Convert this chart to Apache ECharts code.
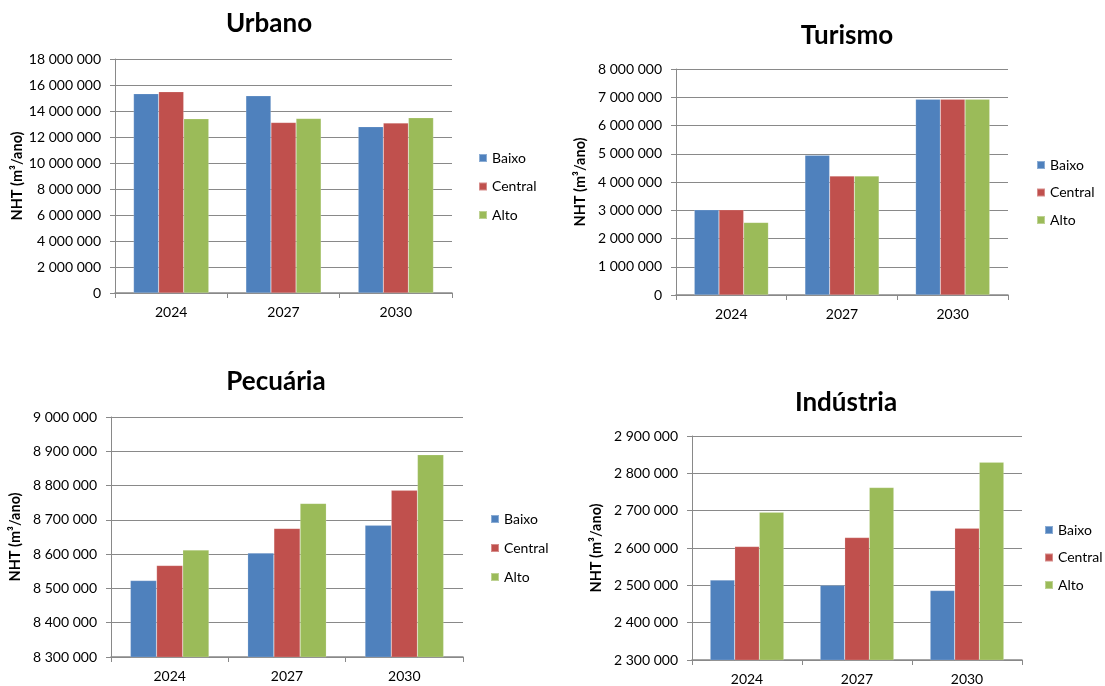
<!DOCTYPE html>
<html>
<head>
<meta charset="utf-8">
<script src="https://cdn.jsdelivr.net/npm/echarts@6/dist/echarts.min.js"></script>
<style>
  html, body { margin: 0; padding: 0; background: #fff; }
  #chart { width: 1105px; height: 686px; }
</style>
</head>
<body>
<div id="chart"></div>
<script>
// Water demand projections (NHT, m³/year) per sector and scenario
const years = ['2024', '2027', '2030'];
const scenarios = ['Baixo', 'Central', 'Alto'];
const yAxisTitle = 'NHT (m³/ano)';

const urbanoBaixo   = [15330000, 15170000, 12790000];
const urbanoCentral = [15480000, 13120000, 13070000];
const urbanoAlto    = [13400000, 13430000, 13480000];

const turismoBaixo   = [3015000, 4950000, 6930000];
const turismoCentral = [3015000, 4210000, 6930000];
const turismoAlto    = [2570000, 4210000, 6930000];

const pecuariaBaixo   = [8523000, 8603000, 8684000];
const pecuariaCentral = [8567000, 8675000, 8786000];
const pecuariaAlto    = [8612000, 8748000, 8890000];

const industriaBaixo   = [2514000, 2500000, 2486000];
const industriaCentral = [2604000, 2628000, 2653000];
const industriaAlto    = [2696000, 2762000, 2830000];

// Axis ranges per panel: [min, max, interval]
const urbanoRange    = [0, 18000000, 2000000];
const turismoRange   = [0, 8000000, 1000000];
const pecuariaRange  = [8300000, 9000000, 100000];
const industriaRange = [2300000, 2900000, 100000];

const colors = ['#4F81BD', '#C0504D', '#9BBB59'];
const FONT = 'Lato, "Open Sans", sans-serif';
const GRAY = '#898989';

function fmt(v) {
  return String(v).replace(/\B(?=(\d{3})+(?!\d))/g, ' ');
}

// Panel layout (pixels)
const panels = [
  { title: 'Urbano',    range: urbanoRange,    data: [urbanoBaixo, urbanoCentral, urbanoAlto],
    grid: { left: 115, top: 59, width: 337, height: 234 }, titleX: 264, titleY: 6,
    legend: { left: 478, top: 150, gap: 12.5 } },
  { title: 'Turismo',   range: turismoRange,   data: [turismoBaixo, turismoCentral, turismoAlto],
    grid: { left: 676, top: 69, width: 332, height: 226 }, titleX: 842, titleY: 18,
    legend: { left: 1036, top: 157, gap: 11.5 } },
  { title: 'Pecuária',  range: pecuariaRange,  data: [pecuariaBaixo, pecuariaCentral, pecuariaAlto],
    grid: { left: 111, top: 417, width: 352, height: 240 }, titleX: 271, titleY: 364,
    legend: { left: 490, top: 511, gap: 13 } },
  { title: 'Indústria', range: industriaRange, data: [industriaBaixo, industriaCentral, industriaAlto],
    grid: { left: 692, top: 436, width: 330, height: 224 }, titleX: 841, titleY: 385,
    legend: { left: 1044, top: 522, gap: 11.5 } }
];

const option = {
  animation: false,
  backgroundColor: '#fff',
  title: [], legend: [], grid: [], xAxis: [], yAxis: [], series: []
};

panels.forEach((p, i) => {
  option.title.push({
    text: p.title, left: p.titleX, top: p.titleY, textAlign: 'center',
    textStyle: { fontFamily: FONT, fontWeight: 'bold', fontSize: 26, color: '#000' }
  });
  option.legend.push({
    data: scenarios, orient: 'vertical', left: p.legend.left, top: p.legend.top,
    itemWidth: 8, itemHeight: 8, itemGap: p.legend.gap, icon: 'rect', padding: 0,
    textStyle: { fontFamily: FONT, fontSize: 14, color: '#000', lineHeight: 16 }
  });
  option.grid.push(Object.assign({ containLabel: false }, p.grid));
  option.xAxis.push({
    type: 'category', gridIndex: i, data: years,
    axisLine: { lineStyle: { color: GRAY, width: 1.5 } },
    axisTick: { show: true, length: 5, lineStyle: { color: GRAY }, alignWithLabel: false },
    axisLabel: { fontFamily: FONT, fontSize: 14, color: '#000', margin: 12 }
  });
  option.yAxis.push({
    type: 'value', gridIndex: i,
    min: p.range[0], max: p.range[1], interval: p.range[2],
    name: yAxisTitle, nameLocation: 'middle', nameGap: 88,
    nameTextStyle: { fontFamily: FONT, fontWeight: 'bold', fontSize: 14.5, color: '#000' },
    axisLine: { show: true, lineStyle: { color: GRAY, width: 1 } },
    axisTick: { show: true, length: 5, lineStyle: { color: GRAY } },
    splitLine: { show: true, lineStyle: { color: GRAY, width: 1 } },
    axisLabel: { fontFamily: FONT, fontSize: 14, color: '#000', margin: 14, formatter: fmt }
  });
  scenarios.forEach((name, k) => {
    option.series.push({
      type: 'bar', name: name, xAxisIndex: i, yAxisIndex: i,
      data: p.data[k], barGap: '0%', barCategoryGap: '33%',
      itemStyle: { color: colors[k], borderColor: 'rgba(255,255,255,0.35)', borderWidth: 0.5 }
    });
  });
});

const chart = echarts.init(document.getElementById('chart'), null, { renderer: 'canvas' });
chart.setOption(option);
</script>
</body>
</html>
